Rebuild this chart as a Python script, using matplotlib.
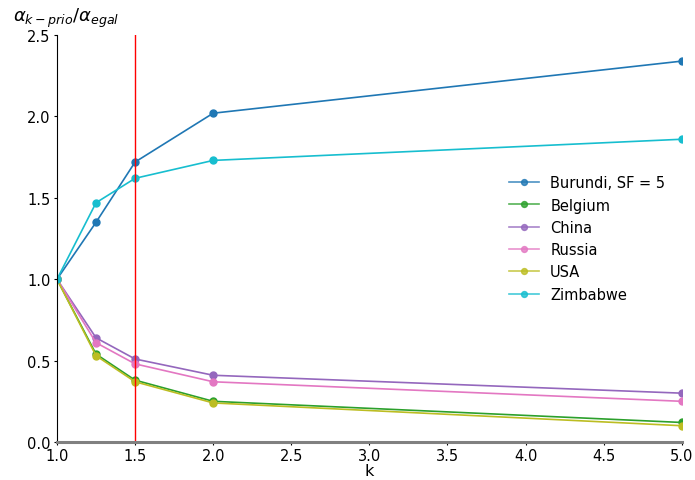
import matplotlib
matplotlib.use("Agg")
import matplotlib.pyplot as plt

k = [1.0, 1.25, 1.5, 2.0, 5.0]
countries = ["Burundi, SF = 5", "Belgium", "China", "Russia", "USA", "Zimbabwe"]
burundi = [1.0, 1.35, 1.72, 2.02, 2.34]
belgium = [1.0, 0.54, 0.38, 0.25, 0.12]
china = [1.0, 0.64, 0.51, 0.41, 0.30]
russia = [1.0, 0.61, 0.48, 0.37, 0.25]
usa = [1.0, 0.53, 0.37, 0.24, 0.10]
zimbabwe = [1.0, 1.47, 1.62, 1.73, 1.86]
series = [burundi, belgium, china, russia, usa, zimbabwe]
colors = ["tab:blue", "tab:green", "tab:purple", "tab:pink", "tab:olive", "tab:cyan"]
k_threshold = 1.5

plt.rcParams["font.size"] = 10.5

fig = plt.figure(figsize=(6.95, 4.81), dpi=100)
ax = fig.add_axes([0.082, 0.079, 0.899, 0.846])

for name, vals, c in zip(countries, series, colors):
    ax.plot(k, vals, marker="o", markersize=5, linewidth=1.2, color=c, label=name)

ax.axvline(k_threshold, color="red", linewidth=1)

ax.set_xlim(1.0, 5.0)
ax.set_ylim(0, 2.5)
ax.set_xticks([1.0, 1.5, 2.0, 2.5, 3.0, 3.5, 4.0, 4.5, 5.0])
ax.set_yticks([0.0, 0.5, 1.0, 1.5, 2.0, 2.5])
ax.tick_params(length=2.5, pad=2)
ax.spines["top"].set_visible(False)
ax.spines["right"].set_visible(False)
ax.spines["bottom"].set_color("gray")
ax.spines["bottom"].set_linewidth(2.2)
ax.spines["bottom"].set_zorder(3)
ax.set_xlabel("k", fontsize=11.5, labelpad=0)
fig.text(0.018, 0.962, r"$\alpha_{k-prio}/\alpha_{egal}$", fontsize=13, va="center", ha="left")

leg = ax.legend(loc="center left", bbox_to_anchor=(0.703, 0.5), frameon=False, markerscale=0.85)
for h in leg.legend_handles:
    h.set_alpha(0.8)

fig.savefig("out.png", dpi=100)
